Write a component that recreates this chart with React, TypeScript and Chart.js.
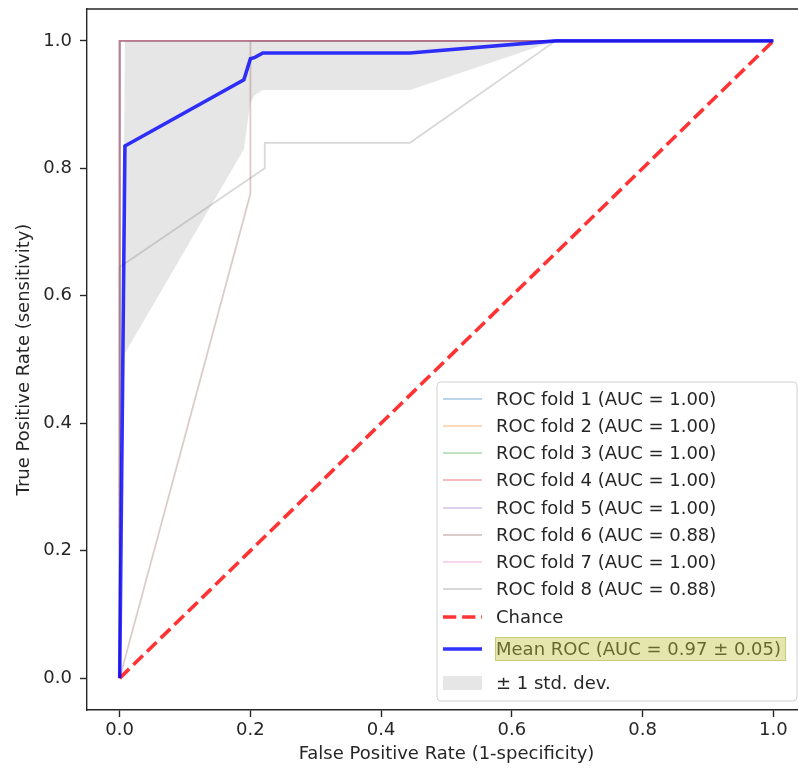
import React, { useEffect, useRef } from 'react';
import { Chart, registerables } from 'chart.js';

Chart.register(...registerables);

const FONT = '"DejaVu Sans", "Noto Sans", sans-serif';
const TEXT = '#262626';

// ---- data ----
const foldAuc = ['1.00', '1.00', '1.00', '1.00', '1.00', '0.88', '1.00', '0.88'];
const foldColors = ['31,119,180', '255,127,14', '44,160,44', '214,39,40', '148,103,189', '140,86,75', '227,119,194', '127,127,127'];

const fold1Fpr = [0, 0, 1];
const fold1Tpr = [0, 1, 1];
const fold2Fpr = [0, 0, 1];
const fold2Tpr = [0, 1, 1];
const fold3Fpr = [0, 0, 1];
const fold3Tpr = [0, 1, 1];
const fold4Fpr = [0, 0, 1];
const fold4Tpr = [0, 1, 1];
const fold5Fpr = [0, 0, 1];
const fold5Tpr = [0, 1, 1];
const fold6Fpr = [0, 0.2, 0.2, 1];
const fold6Tpr = [0, 0.76, 1, 1];
const fold7Fpr = [0, 0, 1];
const fold7Tpr = [0, 1, 1];
const fold8Fpr = [0, 0, 0.222, 0.222, 0.444, 0.667, 1];
const fold8Tpr = [0, 0.645, 0.8, 0.84, 0.84, 1, 1];

const foldFprs = [fold1Fpr, fold2Fpr, fold3Fpr, fold4Fpr, fold5Fpr, fold6Fpr, fold7Fpr, fold8Fpr];
const foldTprs = [fold1Tpr, fold2Tpr, fold3Tpr, fold4Tpr, fold5Tpr, fold6Tpr, fold7Tpr, fold8Tpr];

const chanceX = [0, 1];
const chanceY = [0, 1];

const meanFpr = [0, 0.008, 0.19, 0.2, 0.207, 0.219, 0.444, 0.667, 1];
const meanTpr = [0, 0.835, 0.939, 0.972, 0.974, 0.981, 0.981, 1, 1];
const bandUpper = [0, 1, 1, 1, 1, 1, 1, 1, 1];
const bandLower = [0, 0.51, 0.83, 0.904, 0.915, 0.923, 0.923, 1, 1];

const meanAuc = '0.97';
const stdAuc = '0.05';

const xTickValues = [0, 0.2, 0.4, 0.6, 0.8, 1.0];
const yTickValues = [0, 0.2, 0.4, 0.6, 0.8, 1.0];

const xTitle = 'False Positive Rate (1-specificity)';
const yTitle = 'True Positive Rate (sensitivity)';

const toPts = (xs: number[], ys: number[]) => xs.map((x, i) => ({ x, y: ys[i] }));

const legendPlugin = {
  id: 'rocLegend',
  afterDraw(chart: any) {
    const ctx = chart.ctx as CanvasRenderingContext2D;
    const area = chart.chartArea;
    ctx.save();
    // top / right spines
    ctx.strokeStyle = TEXT;
    ctx.lineWidth = 1.4;
    ctx.beginPath();
    ctx.moveTo(area.left, area.top);
    ctx.lineTo(area.right, area.top);
    ctx.lineTo(area.right, area.bottom);
    ctx.stroke();

    // legend box
    const bw = 360;
    const bh = 319;
    const bx = area.right - 9 - bw;
    const by = area.bottom - 9 - bh;
    const r = 4;
    ctx.beginPath();
    ctx.moveTo(bx + r, by);
    ctx.lineTo(bx + bw - r, by);
    ctx.quadraticCurveTo(bx + bw, by, bx + bw, by + r);
    ctx.lineTo(bx + bw, by + bh - r);
    ctx.quadraticCurveTo(bx + bw, by + bh, bx + bw - r, by + bh);
    ctx.lineTo(bx + r, by + bh);
    ctx.quadraticCurveTo(bx, by + bh, bx, by + bh - r);
    ctx.lineTo(bx, by + r);
    ctx.quadraticCurveTo(bx, by, bx + r, by);
    ctx.closePath();
    ctx.fillStyle = 'rgba(255,255,255,0.8)';
    ctx.fill();
    ctx.strokeStyle = '#d0d0d0';
    ctx.lineWidth = 1;
    ctx.stroke();

    const hx0 = bx + 6;
    const hx1 = bx + 45;
    const tx = bx + 59;
    const rowOffsets = [17, 44, 71, 98, 126, 153, 180, 207, 235, 267, 301];
    ctx.font = `18px ${FONT}`;
    ctx.textBaseline = 'middle';
    ctx.textAlign = 'left';

    const labels: string[] = [];
    foldAuc.forEach((a, i) => labels.push(`ROC fold ${i + 1} (AUC = ${a})`));
    labels.push('Chance');
    labels.push(`Mean ROC (AUC = ${meanAuc} \u00b1 ${stdAuc})`);
    labels.push('\u00b1 1 std. dev.');

    labels.forEach((lab, i) => {
      const y = by + rowOffsets[i];
      ctx.setLineDash([]);
      if (i < 8) {
        ctx.strokeStyle = `rgba(${foldColors[i]},0.3)`;
        ctx.lineWidth = 1.8;
        ctx.beginPath();
        ctx.moveTo(hx0, y);
        ctx.lineTo(hx1, y);
        ctx.stroke();
      } else if (i === 8) {
        ctx.strokeStyle = 'rgba(255,0,0,0.8)';
        ctx.lineWidth = 3.6;
        ctx.setLineDash([13.3, 5.8]);
        ctx.beginPath();
        ctx.moveTo(hx0, y);
        ctx.lineTo(hx1, y);
        ctx.stroke();
        ctx.setLineDash([]);
      } else if (i === 9) {
        ctx.strokeStyle = 'rgba(0,0,255,0.8)';
        ctx.lineWidth = 3.6;
        ctx.beginPath();
        ctx.moveTo(hx0, y);
        ctx.lineTo(hx1, y);
        ctx.stroke();
      } else {
        ctx.fillStyle = 'rgba(128,128,128,0.2)';
        ctx.fillRect(hx0, y - 7, hx1 - hx0, 14);
      }
      ctx.fillStyle = TEXT;
      ctx.fillText(lab, tx, y + 1);
      if (i === 9) {
        const w = ctx.measureText(lab).width;
        ctx.fillStyle = 'rgba(190,196,60,0.42)';
        ctx.fillRect(tx - 1, y - 12, w + 6, 24);
        ctx.strokeStyle = 'rgba(170,176,70,0.5)';
        ctx.lineWidth = 1;
        ctx.strokeRect(tx - 1 + 0.5, y - 12 + 0.5, w + 5, 23);
      }
    });
    ctx.restore();
  },
};

export default function App() {
  const ref = useRef<HTMLCanvasElement | null>(null);

  useEffect(() => {
    if (!ref.current) return;
    const datasets: any[] = [];
    foldFprs.forEach((fpr, i) => {
      datasets.push({
        label: `ROC fold ${i + 1} (AUC = ${foldAuc[i]})`,
        data: toPts(fpr, foldTprs[i]),
        borderColor: `rgba(${foldColors[i]},0.3)`,
        borderWidth: 1.8,
        pointRadius: 0,
        fill: false,
        tension: 0,
        order: 20 - i,
      });
    });
    datasets.push({
      label: 'Chance',
      data: toPts(chanceX, chanceY),
      borderColor: 'rgba(255,0,0,0.8)',
      borderWidth: 3.6,
      borderDash: [13.3, 5.8],
      pointRadius: 0,
      fill: false,
      order: 11,
    });
    datasets.push({
      label: `Mean ROC (AUC = ${meanAuc} \u00b1 ${stdAuc})`,
      data: toPts(meanFpr, meanTpr),
      borderColor: 'rgba(0,0,255,0.8)',
      borderWidth: 3.6,
      pointRadius: 0,
      fill: false,
      order: 10,
    });
    datasets.push({
      label: 'upper',
      data: toPts(meanFpr, bandUpper),
      borderColor: 'rgba(0,0,0,0)',
      borderWidth: 0,
      pointRadius: 0,
      fill: false,
      order: 9,
    });
    datasets.push({
      label: '\u00b1 1 std. dev.',
      data: toPts(meanFpr, bandLower),
      borderColor: 'rgba(0,0,0,0)',
      borderWidth: 0,
      pointRadius: 0,
      backgroundColor: 'rgba(128,128,128,0.2)',
      fill: '-1',
      order: 8,
    });

    const tickFont = { family: FONT, size: 18 };
    const chart = new Chart(ref.current, {
      type: 'line',
      data: { datasets },
      plugins: [legendPlugin],
      options: {
        animation: false,
        responsive: false,
        devicePixelRatio: 1,
        layout: { padding: { left: 0, top: 9, right: 4, bottom: 0 } },
        plugins: {
          legend: { display: false },
          tooltip: { enabled: false },
          filler: { drawTime: 'beforeDatasetsDraw' },
        },
        scales: {
          x: {
            type: 'linear',
            min: -0.05,
            max: 1.05,
            afterBuildTicks: (s: any) => {
              s.ticks = xTickValues.map((v) => ({ value: v }));
            },
            afterFit: (s: any) => {
              s.height = 58;
              s.paddingLeft = 0;
              s.paddingRight = 0;
            },
            ticks: {
              padding: 3,
              color: TEXT,
              font: tickFont,
              maxRotation: 0,
              autoSkip: false,
              callback: (v: any) => Number(v).toFixed(1),
            },
            grid: { drawOnChartArea: false, drawTicks: true, tickLength: 7, tickWidth: 1.4, tickColor: TEXT },
            border: { display: true, color: TEXT, width: 1.4 },
            title: { display: true, text: xTitle, color: TEXT, font: tickFont, padding: { top: 0, bottom: 2.5 } },
          },
          y: {
            type: 'linear',
            min: -0.05,
            max: 1.05,
            afterBuildTicks: (s: any) => {
              s.ticks = yTickValues.map((v) => ({ value: v }));
            },
            afterFit: (s: any) => {
              s.width = 87;
              s.paddingTop = 0;
              s.paddingBottom = 0;
            },
            ticks: {
              padding: 8,
              color: TEXT,
              font: tickFont,
              autoSkip: false,
              callback: (v: any) => Number(v).toFixed(1),
            },
            grid: { drawOnChartArea: false, drawTicks: true, tickLength: 7, tickWidth: 1.4, tickColor: TEXT },
            border: { display: true, color: TEXT, width: 1.4 },
            title: { display: true, text: yTitle, color: TEXT, font: tickFont, padding: { top: 13.8, bottom: 0 } },
          },
        },
      } as any,
    });
    return () => chart.destroy();
  }, []);

  return (
    <div
      style={{
        position: 'fixed',
        left: 0,
        top: 0,
        width: 798,
        height: 768,
        overflow: 'hidden',
        background: '#ffffff',
      }}
    >
      <canvas ref={ref} width={810} height={768} style={{ display: 'block', width: 810, height: 768 }} />
    </div>
  );
}
